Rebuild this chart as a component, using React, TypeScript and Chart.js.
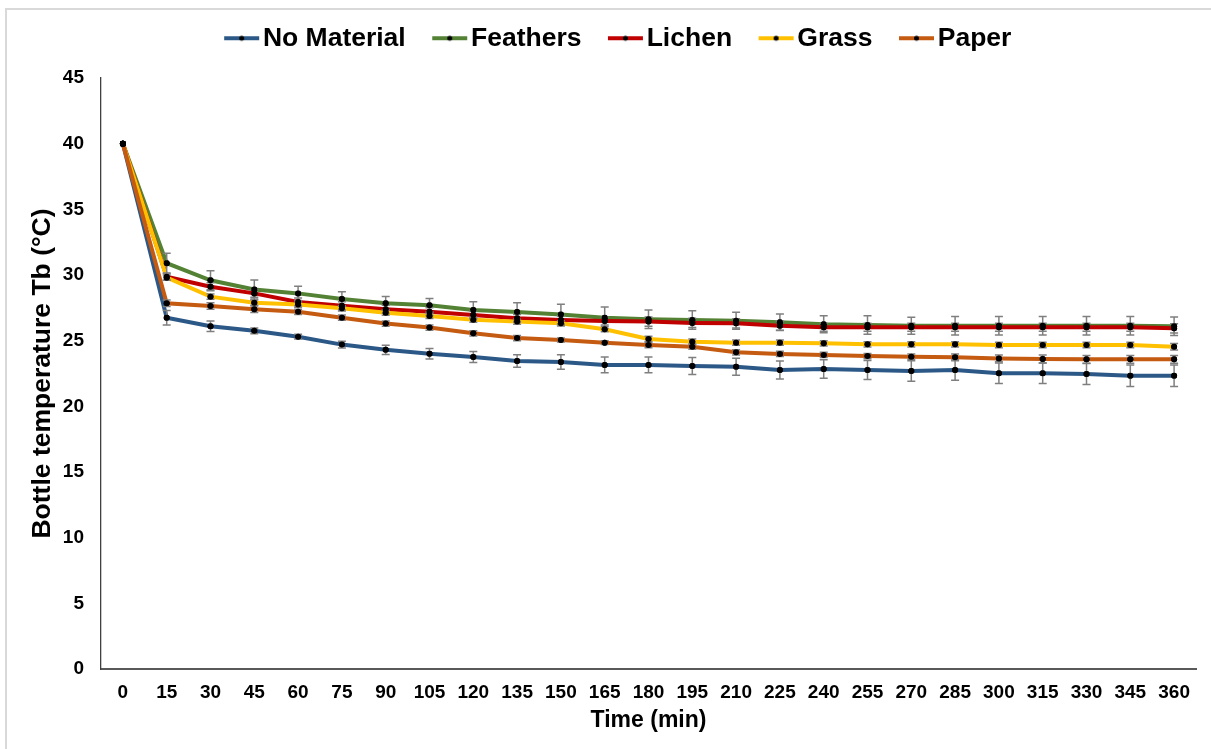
import React, { useEffect, useRef } from "react";
import { Chart, registerables } from "chart.js";

Chart.register(...registerables);

const timeLabels = ["0", "15", "30", "45", "60", "75", "90", "105", "120", "135", "150", "165", "180", "195", "210", "225", "240", "255", "270", "285", "300", "315", "330", "345", "360"];

const noMaterial = [40, 26.75, 26.1, 25.75, 25.3, 24.7, 24.3, 24.0, 23.75, 23.45, 23.38, 23.15, 23.15, 23.07, 23.02, 22.77, 22.84, 22.77, 22.69, 22.77, 22.51, 22.51, 22.46, 22.33, 22.33];
const feathers = [40, 30.9, 29.6, 28.9, 28.6, 28.17, 27.85, 27.7, 27.34, 27.18, 27.0, 26.75, 26.63, 26.57, 26.52, 26.4, 26.25, 26.19, 26.14, 26.14, 26.14, 26.14, 26.14, 26.14, 26.1];
const lichen = [40, 29.87, 29.11, 28.6, 27.95, 27.66, 27.39, 27.21, 26.95, 26.7, 26.57, 26.5, 26.45, 26.35, 26.32, 26.14, 26.02, 26.02, 26.02, 26.02, 26.02, 26.02, 26.02, 26.02, 25.94];
const grass = [40, 29.8, 28.35, 27.89, 27.75, 27.46, 27.13, 26.88, 26.6, 26.45, 26.32, 25.87, 25.13, 24.92, 24.85, 24.85, 24.8, 24.72, 24.72, 24.72, 24.67, 24.67, 24.67, 24.67, 24.54];
const paper = [40, 27.85, 27.64, 27.39, 27.2, 26.75, 26.3, 26.0, 25.56, 25.2, 25.05, 24.85, 24.67, 24.54, 24.11, 23.99, 23.91, 23.83, 23.78, 23.73, 23.65, 23.6, 23.58, 23.58, 23.58];

const noMaterialErr = [0, 0.55, 0.4, 0.22, 0.18, 0.25, 0.35, 0.4, 0.42, 0.48, 0.55, 0.6, 0.6, 0.65, 0.65, 0.68, 0.7, 0.72, 0.78, 0.78, 0.78, 0.78, 0.8, 0.82, 0.82];
const feathersErr = [0, 0.75, 0.72, 0.72, 0.55, 0.55, 0.52, 0.52, 0.62, 0.7, 0.78, 0.82, 0.7, 0.7, 0.65, 0.63, 0.65, 0.7, 0.65, 0.7, 0.7, 0.7, 0.7, 0.7, 0.7];
const lichenErr = [0, 0.25, 0.3, 0.3, 0.3, 0.3, 0.3, 0.3, 0.3, 0.3, 0.3, 0.3, 0.35, 0.35, 0.35, 0.35, 0.3, 0.3, 0.3, 0.3, 0.3, 0.3, 0.3, 0.3, 0.35];
const grassErr = [0, 0.2, 0.2, 0.2, 0.2, 0.2, 0.2, 0.2, 0.2, 0.2, 0.2, 0.2, 0.2, 0.2, 0.2, 0.2, 0.2, 0.2, 0.2, 0.2, 0.2, 0.2, 0.2, 0.2, 0.25];
const paperErr = [0, 0.25, 0.25, 0.25, 0.2, 0.2, 0.2, 0.2, 0.2, 0.2, 0.15, 0.15, 0.2, 0.2, 0.2, 0.2, 0.2, 0.2, 0.2, 0.25, 0.25, 0.3, 0.3, 0.3, 0.3];

const seriesNames = ["No Material", "Feathers", "Lichen", "Grass", "Paper"];
const seriesValues = [noMaterial, feathers, lichen, grass, paper];
const seriesErrors = [noMaterialErr, feathersErr, lichenErr, grassErr, paperErr];
const seriesColors = ["#2B5886", "#548235", "#C00000", "#FFC000", "#C55A11"];

const yTickStep = 5;
const yMin = 0;
const yMax = 45;

const FONT = "'Liberation Sans', Arial, Helvetica, sans-serif";
const LEGEND_H = 56;

function makeLegendMarker(color: string): HTMLCanvasElement {
  const c = document.createElement("canvas");
  c.width = 70;
  c.height = 12;
  const ctx = c.getContext("2d")!;
  ctx.fillStyle = color;
  ctx.fillRect(34, 4, 35, 4);
  ctx.fillStyle = "#000";
  ctx.beginPath();
  ctx.arc(51.5, 6, 2.5, 0, Math.PI * 2);
  ctx.fill();
  return c;
}

const framePlugin = {
  id: "frame",
  beforeDraw(chart: any) {
    const ctx = chart.ctx;
    ctx.save();
    ctx.fillStyle = "#fff";
    ctx.fillRect(0, 0, chart.width, chart.height);
    ctx.strokeStyle = "#D9D9D9";
    ctx.lineWidth = 2;
    ctx.beginPath();
    ctx.moveTo(6, chart.height);
    ctx.lineTo(6, 9);
    ctx.lineTo(chart.width, 9);
    ctx.stroke();
    ctx.restore();
  },
};

const legendSpacer = {
  id: "legendSpacer",
  beforeInit(chart: any) {
    const lg = chart.legend;
    if (!lg) return;
    const orig = lg.fit;
    lg.fit = function () {
      orig.call(this);
      this.height = LEGEND_H;
    };
  },
};

const errorBarsPlugin = {
  id: "errorBars",
  afterDatasetsDraw(chart: any) {
    const ctx = chart.ctx;
    const yScale = chart.scales.y;
    ctx.save();
    ctx.strokeStyle = "#7F7F7F";
    ctx.lineWidth = 1.5;
    seriesErrors.forEach((errs, di) => {
      const meta = chart.getDatasetMeta(di);
      const vals = seriesValues[di];
      meta.data.forEach((pt: any, i: number) => {
        const e = errs[i];
        if (!e) return;
        const x = pt.x;
        const yT = yScale.getPixelForValue(vals[i] + e);
        const yB = yScale.getPixelForValue(vals[i] - e);
        ctx.beginPath();
        ctx.moveTo(x, yT);
        ctx.lineTo(x, yB);
        ctx.moveTo(x - 4, yT);
        ctx.lineTo(x + 4, yT);
        ctx.moveTo(x - 4, yB);
        ctx.lineTo(x + 4, yB);
        ctx.stroke();
      });
    });
    ctx.fillStyle = "#000";
    seriesValues.forEach((_, di) => {
      chart.getDatasetMeta(di).data.forEach((pt: any) => {
        ctx.beginPath();
        ctx.arc(pt.x, pt.y, 3, 0, Math.PI * 2);
        ctx.fill();
      });
    });
    ctx.restore();
  },
};

export default function App() {
  const ref = useRef<HTMLCanvasElement | null>(null);

  useEffect(() => {
    if (!ref.current) return;
    const markers = seriesColors.map((c) => makeLegendMarker(c));
    const chart = new Chart(ref.current, {
      type: "line",
      data: {
        labels: timeLabels,
        datasets: seriesNames.map((name, i) => ({
          label: name,
          data: seriesValues[i],
          borderColor: seriesColors[i],
          backgroundColor: seriesColors[i],
          borderWidth: 4,
          pointRadius: 3,
          pointBackgroundColor: "#000",
          pointBorderColor: "#000",
          pointBorderWidth: 0,
          tension: 0,
          fill: false,
          order: seriesNames.length - i,
        })),
      },
      options: {
        animation: false,
        responsive: false,
        devicePixelRatio: 1,
        layout: { padding: { top: 22, left: 16, right: 15, bottom: 0 } },
        plugins: {
          legend: {
            position: "top",
            labels: {
              usePointStyle: true,
              pointStyleWidth: 49,
              padding: 3,
              color: "#000",
              font: { family: FONT, size: 26.5, weight: "bold" },
              sort: (a: any, b: any) => a.datasetIndex - b.datasetIndex,
              generateLabels: (ch: any) => {
                const items = (Chart.defaults.plugins.legend.labels as any).generateLabels(ch);
                return items.map((it: any) => ({ ...it, pointStyle: markers[it.datasetIndex] }));
              },
            },
          },
          tooltip: { enabled: false },
        },
        scales: {
          x: {
            type: "category",
            offset: true,
            grid: { display: false, drawTicks: false },
            border: { color: "#595959", width: 2 },
            ticks: {
              color: "#000",
              font: { family: FONT, size: 19, weight: "bold" },
              padding: 12,
              autoSkip: false,
              maxRotation: 0,
            },
            title: {
              display: true,
              text: "Time (min)",
              color: "#000",
              font: { family: FONT, size: 23, weight: "bold" },
              padding: { top: 0, bottom: 15 },
            },
            afterFit: (s: any) => {
              s.height = 80;
            },
          },
          y: {
            min: yMin,
            max: yMax,
            grid: { display: false, drawTicks: false },
            border: { color: "#404040", width: 1.3 },
            ticks: {
              stepSize: yTickStep,
              color: "#000",
              font: { family: FONT, size: 19, weight: "bold" },
              padding: 17,
            },
            title: {
              display: true,
              text: "Bottle temperature Tb (°C)",
              color: "#000",
              font: { family: FONT, size: 26.5, weight: "bold", lineHeight: 1 },
              padding: { top: 13.5, bottom: 0 },
            },
            afterFit: (s: any) => {
              s.width = 85;
            },
          },
        },
      } as any,
      plugins: [framePlugin, legendSpacer, errorBarsPlugin],
    });
    return () => chart.destroy();
  }, []);

  return (
    <div style={{ position: "absolute", left: 0, top: 0, width: 1211, height: 749, background: "#fff" }}>
      <canvas ref={ref} width={1211} height={749} style={{ display: "block", width: 1211, height: 749 }} />
    </div>
  );
}
